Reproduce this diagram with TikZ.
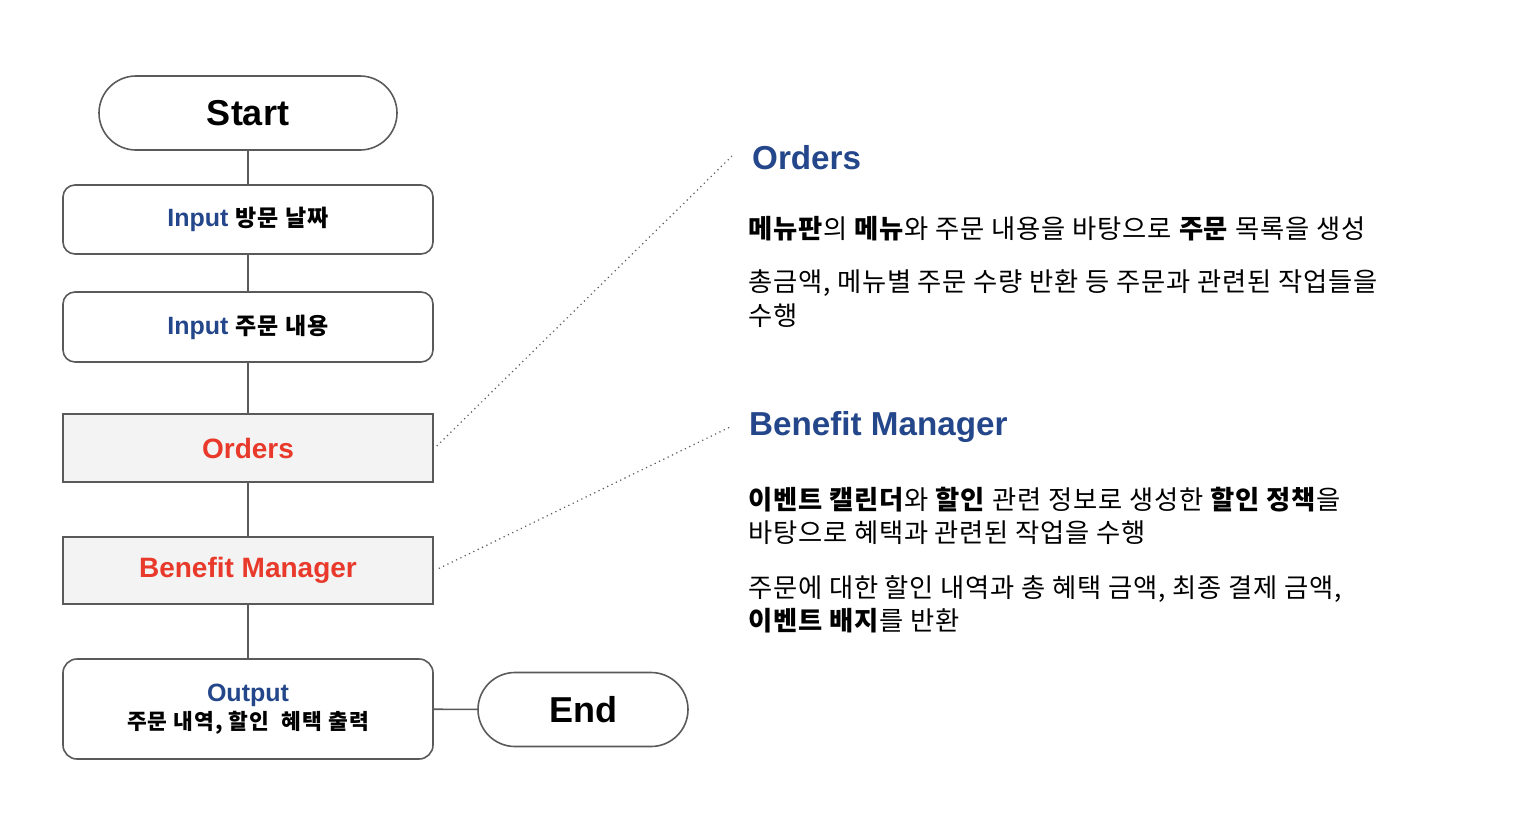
\documentclass[tikz,border=0pt]{standalone}
\usepackage{fontspec}
\setmainfont{Liberation Sans}
\newfontfamily\kr{Noto Sans CJK KR}[LetterSpace=3]
\newfontfamily\krn{Noto Sans CJK KR}[LetterSpace=5]
\definecolor{bd}{HTML}{5A5A5A}
\definecolor{tblue}{HTML}{24468A}
\definecolor{tred}{HTML}{E8392B}
\definecolor{boxfill}{HTML}{F3F3F3}
\begin{document}
\begin{tikzpicture}[x=1pt,y=-1pt,
  term/.style={draw=bd, line width=1.6pt, inner sep=0pt, fill=white},
  proc/.style={draw=bd, line width=1.6pt, inner sep=0pt, minimum width=370pt, rounded corners=12pt, fill=white, align=center},
  comp/.style={draw=bd, line width=1.6pt, inner sep=0pt, minimum width=370pt, fill=boxfill, text=tred, font=\fontsize{28}{30}\selectfont\bfseries},
  conn/.style={draw=bd, line width=1.6pt},
  dotline/.style={draw=bd, line width=1.2pt, dash pattern=on 1.2pt off 3.6pt},
  ttl/.style={anchor=west, inner sep=0pt, text=tblue, font=\fontsize{33.2}{36}\selectfont\bfseries},
  body/.style={anchor=west, inner sep=0pt, align=left, font=\kr\fontsize{26.3}{33.5}\selectfont}
]
\useasboundingbox[fill=white] (0,0) rectangle (1540,836);

\node[term, minimum width=298pt, minimum height=74pt, rounded corners=37pt,
      font=\fontsize{36}{40}\selectfont\bfseries] (start) at (248,113) {Start};
\node[proc, minimum height=69pt] (in1) at (248,219.5)
  {\raisebox{-2pt}{\fontsize{25}{28}\selectfont\bfseries\textcolor{tblue}{Input} {\krn\fontsize{23}{28}\selectfont 방문 날짜}}};
\node[proc, minimum height=70pt] (in2) at (248,327)
  {\raisebox{-2pt}{\fontsize{25}{28}\selectfont\bfseries\textcolor{tblue}{Input} {\krn\fontsize{23}{28}\selectfont 주문 내용}}};
\node[comp, minimum height=68pt] (orders) at (248,448) {Orders};
\node[comp, minimum height=67pt] (benefit) at (248,570.5) {\raisebox{-1.5pt}{Benefit Manager}};
\node[proc, minimum height=100pt, rounded corners=14pt,
      font=\fontsize{25}{28}\selectfont\bfseries] (output) at (248,709)
  {\raisebox{-3pt}{\textcolor{tblue}{Output}}\\\raisebox{-3pt}{\krn\fontsize{21.5}{28}\selectfont 주문 내역, 할인\ \ 혜택 출력}};
\node[term, minimum width=210pt, minimum height=74pt, rounded corners=37pt,
      font=\fontsize{36}{40}\selectfont\bfseries] (end) at (583,709.5) {End};

\draw[conn] (start) -- (in1);
\draw[conn] (in1) -- (in2);
\draw[conn] (in2) -- (orders);
\draw[conn] (orders) -- (benefit);
\draw[conn] (benefit) -- (output);
\draw[conn] (output) -- (end);

\node[ttl] (ottl) at (752,158) {Orders};
\node[ttl] (bttl) at (749,427) {Benefit Manager};
\coordinate (oc) at (732,156);
\coordinate (bc) at (730,427);
\draw[dotline] ([xshift=3pt,yshift=2pt]orders.east) -- (oc);
\draw[dotline] ([xshift=5pt,yshift=2pt]benefit.east) -- (bc);

\node[body] (o1) at (748,229) {\textbf{메뉴판}의 \textbf{메뉴}와 주문 내용을 바탕으로 \textbf{주문} 목록을 생성};
\node[body] (o2) at (748,298.5) {총금액, 메뉴별 주문 수량 반환 등 주문과 관련된 작업들을\\수행};
\node[body] (b1) at (748,516) {\textbf{이벤트 캘린더}와 \textbf{할인} 관련 정보로 생성한 \textbf{할인 정책}을\\바탕으로 혜택과 관련된 작업을 수행};
\node[body] (b2) at (748,604.5) {주문에 대한 할인 내역과 총 혜택 금액, 최종 결제 금액,\\\textbf{이벤트 배지}를 반환};
\end{tikzpicture}
\end{document}
